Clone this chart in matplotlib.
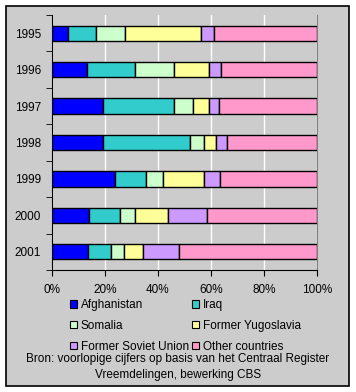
import numpy as np
import matplotlib.pyplot as plt
from matplotlib.patches import Rectangle, Patch

plt.rcParams['font.family'] = ['Liberation Sans', 'DejaVu Sans']

# data (% share per year)
years = ['1995', '1996', '1997', '1998', '1999', '2000', '2001']
countries = ['Afghanistan', 'Iraq', 'Somalia', 'Former Yugoslavia',
             'Former Soviet Union', 'Other countries']
afghanistan = [6.0, 13.2, 19.1, 19.1, 23.6, 13.8, 13.4]
iraq = [10.6, 18.3, 27.1, 33.1, 11.7, 11.7, 8.7]
somalia = [10.9, 14.7, 7.1, 5.3, 6.4, 6.0, 4.9]
yugoslavia = [28.6, 12.9, 5.8, 4.2, 15.8, 12.4, 7.5]
soviet = [5.1, 4.5, 3.8, 4.4, 6.0, 14.7, 13.6]
other = [38.8, 36.4, 37.1, 33.9, 36.5, 41.4, 51.9]
series = [afghanistan, iraq, somalia, yugoslavia, soviet, other]
colors = ['#0000FF', '#33CCCC', '#CCFFCC', '#FFFF99', '#CC99FF', '#FF99CC']
xticks = [0, 20, 40, 60, 80, 100]

bg = '#CCCCCC'
fig = plt.figure(figsize=(3.56, 3.92), dpi=100, facecolor='white')
fig.patches.append(Rectangle((6/356, 1-386/392), 343/356, 380/392,
                             transform=fig.transFigure, facecolor=bg,
                             edgecolor='black', lw=1.2, zorder=-5))

ax = fig.add_axes([52/356, 1-270/392, 265/356, 255/392])
ax.set_facecolor(bg)

y = np.arange(len(years))
left = np.zeros(len(years))
for vals, c, name in zip(series, colors, countries):
    ax.barh(y, vals, left=left, height=0.42, color=c, edgecolor='black',
            lw=1, label=name, zorder=3)
    left += np.array(vals)

ax.set_xlim(0, 100)
ax.set_ylim(len(years) - 0.5, -0.5)
ax.set_xticks(xticks)
ax.set_xticklabels([f'{v}%' for v in xticks], fontsize=8.5)
ax.set_yticks(y)
ax.set_yticklabels(years, fontsize=8.5)
ax.set_yticks(np.arange(len(years) + 1) - 0.5, minor=True)
ax.tick_params(axis='y', which='major', length=0, pad=8)
ax.tick_params(axis='y', which='minor', length=4, color='black')
ax.tick_params(axis='x', length=4, color='black', pad=6)
ax.grid(axis='x', color='white', lw=1, zorder=0)
for s in ['left', 'bottom']:
    ax.spines[s].set_color('black')
ax.spines['top'].set_visible(False)
ax.spines['right'].set_color('#808080')

handles = [Patch(facecolor=c, edgecolor='black', lw=0.8) for c in colors]
order = [0, 2, 4, 1, 3, 5]
fig.legend([handles[i] for i in order], [countries[i] for i in order],
           ncol=2, frameon=False, fontsize=8.5, loc='upper left',
           bbox_to_anchor=(70/356, 1-299/392), handlelength=0.6,
           handleheight=0.6, handletextpad=0.3, columnspacing=0.3,
           labelspacing=0.75, borderaxespad=0, borderpad=0)

fig.text(178/356, 1-359/392,
         'Bron: voorlopige cijfers op basis van het Centraal Register',
         ha='center', va='center', fontsize=8.5)
fig.text(178/356, 1-375/392, 'Vreemdelingen, bewerking CBS',
         ha='center', va='center', fontsize=8.5)

fig.savefig('out.png', dpi=100, facecolor='white')
